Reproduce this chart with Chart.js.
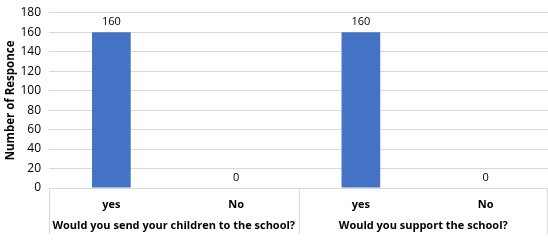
<!DOCTYPE html>
<html>
<head>
<meta charset="utf-8">
<script src="https://cdn.jsdelivr.net/npm/chart.js@4/dist/chart.umd.min.js"></script>
<style>
  html, body { margin: 0; padding: 0; background: #fff; }
  #wrap { width: 548px; height: 241px; position: relative; }
</style>
</head>
<body>
<div id="wrap"><canvas id="chart"></canvas></div>
<script>
const answers = ['yes', 'No', 'yes', 'No'];
const questions = ['Would you send your children to the school?', 'Would you support the school?'];
const responses = [160, 0, 160, 0];
const yTicks = [0, 20, 40, 60, 80, 100, 120, 140, 160, 180];

const fontFamily = "'Open Sans', 'Liberation Sans', sans-serif";
const labelFont = { family: fontFamily, size: 11, weight: 'bold' };

// value labels above the bars
const valueLabels = {
    id: 'valueLabels',
    afterDatasetsDraw(chart) {
        const ctx = chart.ctx;
        const meta = chart.getDatasetMeta(0);
        ctx.save();
        ctx.fillStyle = '#000';
        ctx.font = '11px ' + fontFamily;
        ctx.textAlign = 'center';
        ctx.textBaseline = 'bottom';
        meta.data.forEach((bar, i) => {
            ctx.fillText(String(responses[i]), bar.x, bar.y - 5);
        });
        ctx.restore();
    },
};

// question labels and group separators under the axis
const groupAxis = {
    id: 'groupAxis',
    afterDraw(chart) {
        const x = chart.scales.x;
        const area = chart.chartArea;
        const ctx = chart.ctx;
        const mid = (x.getPixelForValue(1) + x.getPixelForValue(2)) / 2;
        ctx.save();
        ctx.strokeStyle = '#d9d9d9';
        ctx.lineWidth = 1;
        [area.left, mid, area.right - 1].forEach((px) => {
            const p = Math.round(px) + 0.5;
            ctx.beginPath();
            ctx.moveTo(p, area.bottom);
            ctx.lineTo(p, chart.height - 7);
            ctx.stroke();
        });
        ctx.fillStyle = '#000';
        ctx.font = 'bold 11px ' + fontFamily;
        ctx.textAlign = 'center';
        ctx.textBaseline = 'middle';
        questions.forEach((q, i) => {
            const cx = (x.getPixelForValue(i * 2) + x.getPixelForValue(i * 2 + 1)) / 2;
            ctx.fillText(q, cx, area.bottom + 38);
        });
        ctx.restore();
    },
};

new Chart(document.getElementById('chart'), {
    type: 'bar',
    data: {
        labels: answers,
        datasets: [{
            data: responses,
            backgroundColor: '#4472C4',
            categoryPercentage: 1,
            barPercentage: 0.31,
        }],
    },
    options: {
        responsive: true,
        maintainAspectRatio: false,
        animation: false,
        layout: { padding: { top: 2, right: 0, left: 2, bottom: 0 } },
        plugins: { legend: { display: false }, tooltip: { enabled: false } },
        scales: {
            x: {
                grid: { display: false },
                border: { display: false },
                ticks: { color: '#000', font: labelFont, padding: 2, maxRotation: 0 },
                afterFit(scale) { scale.height = 53; },
            },
            y: {
                min: 0,
                max: 180,
                afterBuildTicks(scale) { scale.ticks = yTicks.map((v) => ({ value: v })); },
                afterFit(scale) { scale.width = 47; },
                grid: { color: '#d9d9d9', drawTicks: false },
                border: { display: false },
                ticks: { color: '#000', font: { family: fontFamily, size: 12, lineHeight: 0.8 }, padding: 8 },
                title: { display: true, text: 'Number of Responce', color: '#000', font: { family: fontFamily, size: 11.5, weight: 'bold' }, padding: 2 },
            },
        },
    },
    plugins: [valueLabels, groupAxis],
});
</script>
</body>
</html>
